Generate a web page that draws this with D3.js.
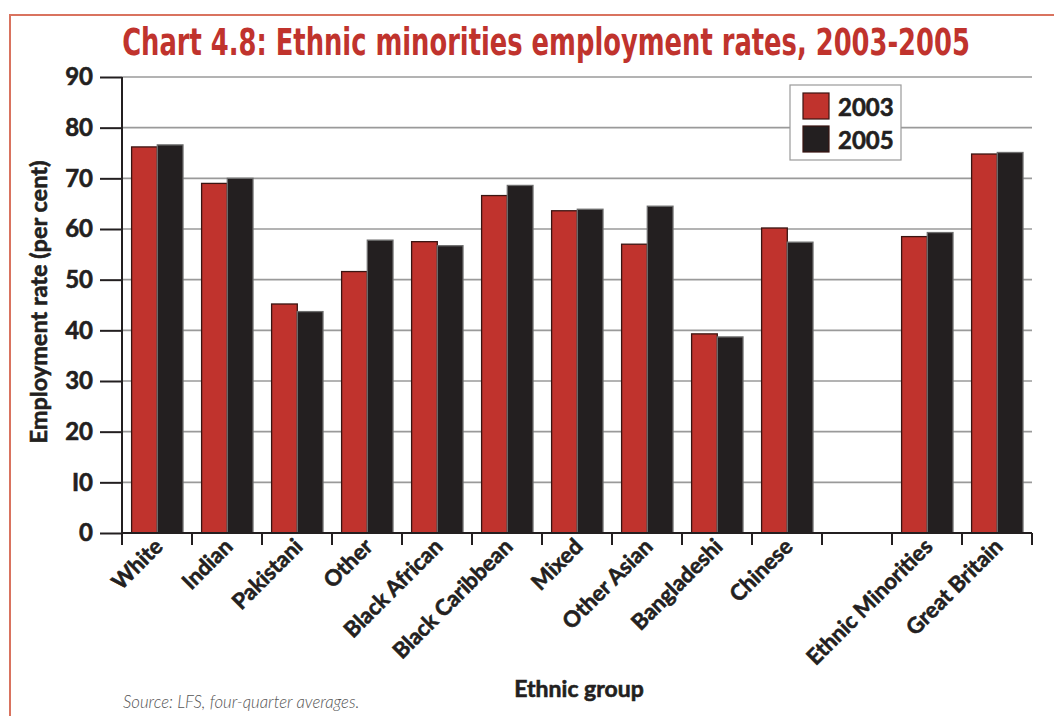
<!DOCTYPE html>
<html>
<head>
<meta charset="utf-8">
<script src="https://cdn.jsdelivr.net/npm/d3@7"></script>
<style>
  html, body { margin: 0; padding: 0; background: #fff; }
  svg { display: block; }
</style>
</head>
<body>
<svg id="chart" width="1054" height="716"></svg>
<script>
// ---- data ----
const categories = ["White", "Indian", "Pakistani", "Other", "Black African", "Black Caribbean",
  "Mixed", "Other Asian", "Bangladeshi", "Chinese", "Ethnic Minorities", "Great Britain"];
const series = ["2003", "2005"];
const values2003 = [76.2, 69.0, 45.2, 51.6, 57.5, 66.6, 63.6, 57.0, 39.3, 60.2, 58.5, 74.8];
const values2005 = [76.6, 70.0, 43.7, 57.8, 56.7, 68.6, 63.9, 64.5, 38.7, 57.4, 59.3, 75.1];
const yTicks = [0, 10, 20, 30, 40, 50, 60, 70, 80, 90];
const yTickLabels = ["0", "I0", "20", "30", "40", "50", "60", "70", "80", "90"];
const gapAfter = "Chinese";
const titleText = "Chart 4.8: Ethnic minorities employment rates, 2003-2005";
const yTitle = "Employment rate (per cent)";
const xTitle = "Ethnic group";
const sourceText = "Source: LFS, four-quarter averages.";

// ---- layout ----
const colors = { "2003": "#c0332d", "2005": "#231f20" };
const strokes = { "2003": "#3a1512", "2005": "#6e6e6e" };
const M = { left: 122, right: 1032, top: 77, bottom: 533 };
const FONT = "Lato, 'Open Sans', sans-serif";
const INK = "#231f20";

const svg = d3.select("#chart");
function heavy(sel, size) {
  return sel.attr("font-family", FONT).attr("font-weight", "bold").attr("font-size", size)
    .attr("fill", INK).attr("stroke", INK).attr("stroke-width", 0.6).attr("paint-order", "stroke");
}

// slots incl. gap
const slots = [];
categories.forEach(c => { slots.push(c); if (c === gapAfter) slots.push("__gap__"); });

const x = d3.scaleBand().domain(slots).range([M.left, M.right]).padding(0);
const x1 = d3.scaleBand().domain(series).range([9.6, 61]).padding(0);
const y = d3.scaleLinear().domain([0, 90]).range([M.bottom, M.top]);

// frame
svg.append("path")
  .attr("d", `M10,716 L10,15 L1054,15`)
  .attr("fill", "none").attr("stroke", "#d9735f").attr("stroke-width", 2);

// title (scaled horizontally to the reference width)
const tg = svg.append("g");
const tt = tg.append("text")
  .attr("x", 0).attr("y", 0)
  .attr("text-anchor", "middle")
  .attr("font-family", "'Liberation Sans Narrow', 'DejaVu Sans Condensed', sans-serif")
  .attr("font-weight", "bold").attr("font-size", 37)
  .attr("fill", "#c0332d")
  .text(titleText);
const tw = tt.node().getComputedTextLength();
tg.attr("transform", `translate(546,55) scale(${848 / tw},1)`);

// gridlines
svg.append("g").selectAll("line")
  .data(yTicks.filter(d => d > 0))
  .join("line")
  .attr("x1", M.left).attr("x2", M.right)
  .attr("y1", d => y(d)).attr("y2", d => y(d))
  .attr("stroke", "#9a9a9a").attr("stroke-width", 1.6);

// bars
const rows = categories.map((c, i) => ({ cat: c, vals: [values2003[i], values2005[i]] }));
const groups = svg.append("g").selectAll("g")
  .data(rows).join("g")
  .attr("transform", d => `translate(${x(d.cat)},0)`);
groups.selectAll("rect")
  .data(d => series.map((s, j) => ({ s, v: d.vals[j] })))
  .join("rect")
  .attr("x", d => x1(d.s))
  .attr("y", d => y(d.v))
  .attr("width", x1.bandwidth())
  .attr("height", d => y(0) - y(d.v))
  .attr("fill", d => colors[d.s])
  .attr("stroke", d => strokes[d.s])
  .attr("stroke-width", 1.3);

// y axis
const yAxis = d3.axisLeft(y).tickValues(yTicks)
  .tickFormat((d, i) => yTickLabels[i]).tickSize(22).tickPadding(7);
const gy = svg.append("g").attr("transform", `translate(${M.left},0)`).call(yAxis);
gy.select(".domain").remove();
gy.selectAll(".tick line").attr("stroke", INK).attr("stroke-width", 2);
heavy(gy.selectAll(".tick text"), 24);
svg.append("line").attr("x1", M.left).attr("x2", M.left).attr("y1", M.top).attr("y2", M.bottom + 12)
  .attr("stroke", INK).attr("stroke-width", 2);

// x axis
svg.append("line").attr("x1", M.left).attr("x2", M.right).attr("y1", M.bottom).attr("y2", M.bottom)
  .attr("stroke", INK).attr("stroke-width", 2);
const boundaries = slots.map(s => x(s)).concat([M.right]);
svg.append("g").selectAll("line").data(boundaries).join("line")
  .attr("x1", d => d).attr("x2", d => d).attr("y1", M.bottom).attr("y2", M.bottom + 12)
  .attr("stroke", INK).attr("stroke-width", 2);

heavy(svg.append("g").selectAll("text").data(categories).join("text")
  .attr("transform", d => `translate(${x(d) + x.bandwidth() / 2 + 7},${M.bottom + 15}) rotate(-45)`)
  .attr("text-anchor", "end")
  .text(d => d), 22);

// axis titles
heavy(svg.append("text")
  .attr("transform", `translate(47,302) rotate(-90)`)
  .attr("text-anchor", "middle")
  .text(yTitle), 23.5);
heavy(svg.append("text")
  .attr("x", 579).attr("y", 697)
  .attr("text-anchor", "middle")
  .text(xTitle), 23);

// source
svg.append("text")
  .attr("x", 123).attr("y", 708)
  .attr("font-family", FONT)
  .attr("font-style", "italic").attr("font-weight", 300).attr("font-size", 16.8).attr("fill", "#555")
  .text(sourceText);

// legend
const lg = svg.append("g").attr("transform", "translate(790,85)");
lg.append("rect").attr("width", 111).attr("height", 75)
  .attr("fill", "#fff").attr("stroke", "#9a9a9a").attr("stroke-width", 1.2);
series.forEach((s, i) => {
  lg.append("rect").attr("x", 13).attr("y", 8 + i * 33).attr("width", 26).attr("height", 26)
    .attr("fill", colors[s]).attr("stroke", "#3a1512").attr("stroke-width", 1.2);
  heavy(lg.append("text").attr("x", 48).attr("y", 31 + i * 33).text(s), 24);
});
</script>
</body>
</html>
